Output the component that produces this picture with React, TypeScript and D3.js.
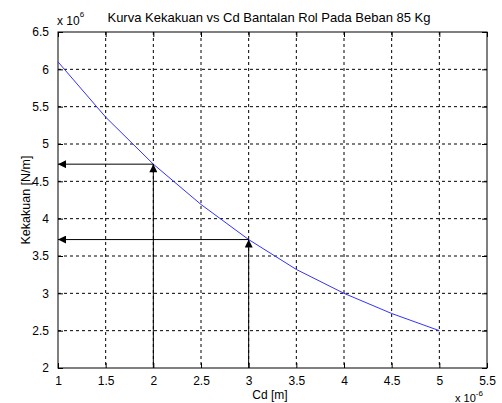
import React, { useEffect, useRef } from "react";
import * as d3 from "d3";

// data (x in 1e-6 m, y in 1e6 N/m)
const cdValues = [1, 1.5, 2, 2.5, 3, 3.5, 4, 4.5, 5];
const kValues = [6.1, 5.36, 4.73, 4.19, 3.72, 3.32, 3.0, 2.73, 2.5];
const xTicks = [1, 1.5, 2, 2.5, 3, 3.5, 4, 4.5, 5, 5.5];
const yTicks = [2, 2.5, 3, 3.5, 4, 4.5, 5, 5.5, 6, 6.5];
// points marked with arrows
const markCd = [2, 3];
const markK = [4.73, 3.72];

export default function App() {
  const ref = useRef<SVGSVGElement>(null);

  useEffect(() => {
    const width = 502;
    const height = 403;
    const margin = { top: 32, right: 15, bottom: 35, left: 58 };
    const innerWidth = width - margin.left - margin.right;
    const innerHeight = height - margin.top - margin.bottom;
    const font = "'Liberation Sans', Arial, sans-serif";

    const svg = d3.select(ref.current);
    svg.selectAll("*").remove();

    const x = d3.scaleLinear().domain([1, 5.5]).range([0, innerWidth]);
    const y = d3.scaleLinear().domain([2, 6.5]).range([innerHeight, 0]);

    const defs = svg.append("defs");
    defs.append("marker")
      .attr("id", "head")
      .attr("viewBox", "0 0 10 10")
      .attr("refX", 10)
      .attr("refY", 5)
      .attr("markerWidth", 10)
      .attr("markerHeight", 8)
      .attr("markerUnits", "userSpaceOnUse")
      .attr("orient", "auto")
      .append("path")
      .attr("d", "M0,0 L10,5 L0,10 Z")
      .attr("fill", "#000");

    const g = svg.append("g")
      .attr("transform", `translate(${margin.left},${margin.top})`);

    // grid
    g.append("g").selectAll("line")
      .data(xTicks.slice(1, -1))
      .join("line")
      .attr("x1", d => x(d)).attr("x2", d => x(d))
      .attr("y1", 0).attr("y2", innerHeight)
      .attr("stroke", "#000")
      .attr("stroke-width", 1)
      .attr("stroke-dasharray", "3,3");

    g.append("g").selectAll("line")
      .data(yTicks.slice(1, -1))
      .join("line")
      .attr("x1", 0).attr("x2", innerWidth)
      .attr("y1", d => y(d)).attr("y2", d => y(d))
      .attr("stroke", "#000")
      .attr("stroke-width", 1)
      .attr("stroke-dasharray", "3,3");

    // box
    g.append("rect")
      .attr("width", innerWidth)
      .attr("height", innerHeight)
      .attr("fill", "none")
      .attr("stroke", "#000")
      .attr("stroke-width", 1);

    // axes, MATLAB style ticks pointing inward
    const xAxis = g.append("g")
      .attr("transform", `translate(0,${innerHeight})`)
      .call(d3.axisBottom(x).tickValues(xTicks).tickSizeInner(-5).tickSizeOuter(0).tickPadding(8)
        .tickFormat(d => String(d)));
    const yAxis = g.append("g")
      .call(d3.axisLeft(y).tickValues(yTicks).tickSizeInner(-5).tickSizeOuter(0).tickPadding(9)
        .tickFormat(d => String(d)));
    g.append("g")
      .call(d3.axisTop(x).tickValues(xTicks).tickSizeInner(-5).tickSizeOuter(0).tickFormat(() => ""));
    g.append("g")
      .attr("transform", `translate(${innerWidth},0)`)
      .call(d3.axisRight(y).tickValues(yTicks).tickSizeInner(-5).tickSizeOuter(0).tickFormat(() => ""));

    g.selectAll(".domain").remove();
    g.selectAll(".tick line").attr("stroke", "#000");
    [xAxis, yAxis].forEach(a => a.selectAll("text")
      .attr("font-family", font)
      .attr("font-size", 12)
      .attr("fill", "#000"));

    // curve
    const line = d3.line<number>()
      .x((_, i) => x(cdValues[i]))
      .y(d => y(d));
    g.append("path")
      .datum(kValues)
      .attr("fill", "none")
      .attr("stroke", "#3333ff")
      .attr("stroke-width", 1)
      .attr("d", line);

    // arrows
    markCd.forEach((c, i) => {
      g.append("line")
        .attr("x1", x(c)).attr("x2", x(c))
        .attr("y1", innerHeight).attr("y2", y(markK[i]))
        .attr("stroke", "#000")
        .attr("marker-end", "url(#head)");
      g.append("line")
        .attr("x1", x(c)).attr("x2", x(1))
        .attr("y1", y(markK[i])).attr("y2", y(markK[i]))
        .attr("stroke", "#000")
        .attr("marker-end", "url(#head)");
    });

    // title and labels
    svg.append("text")
      .attr("x", 269)
      .attr("y", 22)
      .attr("text-anchor", "middle")
      .attr("font-family", font)
      .attr("font-size", 13)
      .text("Kurva Kekakuan vs Cd Bantalan Rol Pada Beban 85 Kg");

    svg.append("text")
      .attr("x", 270)
      .attr("y", 399)
      .attr("text-anchor", "middle")
      .attr("font-family", font)
      .attr("font-size", 12)
      .text("Cd [m]");

    svg.append("text")
      .attr("transform", `translate(30,${margin.top + innerHeight / 2}) rotate(-90)`)
      .attr("text-anchor", "middle")
      .attr("font-family", font)
      .attr("font-size", 12.5)
      .text("Kekakuan [N/m]");

    const topExp = svg.append("text")
      .attr("x", 57)
      .attr("y", 25)
      .attr("font-family", font)
      .attr("font-size", 12);
    topExp.append("tspan").text("x 10");
    topExp.append("tspan").attr("dy", -8).attr("font-size", 8).text("6");

    const botExp = svg.append("text")
      .attr("x", 455)
      .attr("y", 402)
      .attr("font-family", font)
      .attr("font-size", 11);
    botExp.append("tspan").text("x 10");
    botExp.append("tspan").attr("dy", -6).attr("font-size", 8).text("-6");
  }, []);

  return (
    <svg ref={ref} width={502} height={403}
      style={{ display: "block", position: "absolute", left: 0, top: 0, background: "#fff" }} />
  );
}
